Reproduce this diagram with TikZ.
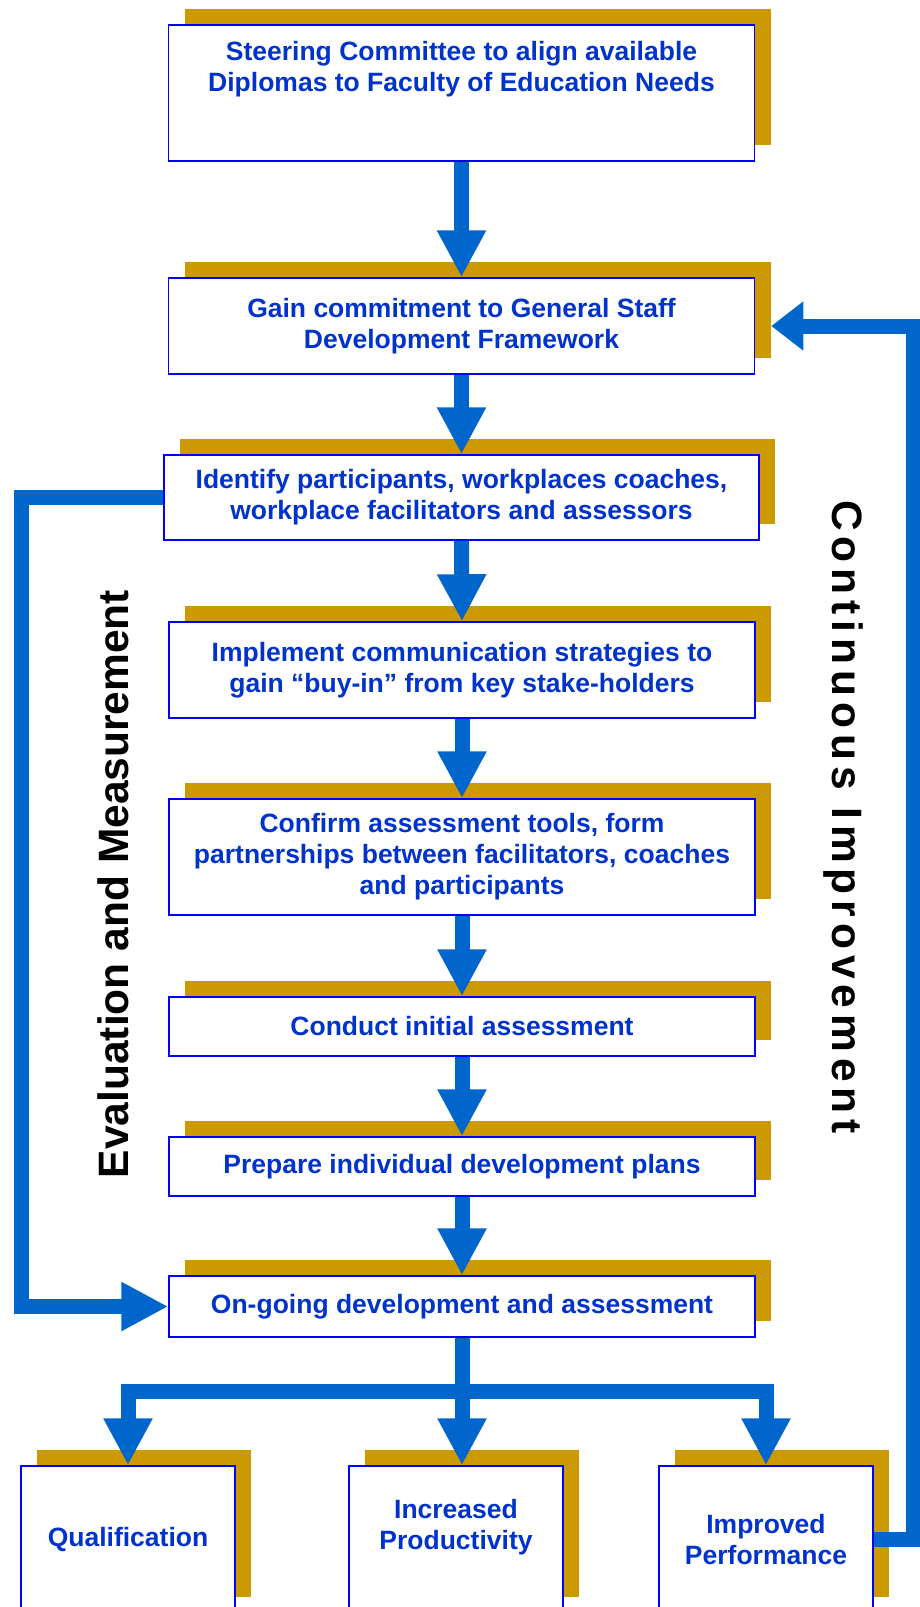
\documentclass[tikz,border=0pt]{standalone}
\usepackage{fontspec}
\setmainfont{Liberation Sans}
\usetikzlibrary{arrows.meta,shadows}
\definecolor{gold}{HTML}{CC9900}
\definecolor{flowblue}{HTML}{0066CC}
\definecolor{edgeblue}{HTML}{0000FF}
\definecolor{inkblue}{HTML}{0033CC}

\begin{document}
\begin{tikzpicture}[x=1pt,y=-1pt,
  box/.style={draw=edgeblue, line width=1.5pt, fill=white,
    general shadow={fill=gold, shadow xshift=16pt, shadow yshift=16pt},
    align=center, text=inkblue, inner sep=0pt,
    font=\fontsize{26.5}{31}\selectfont\bfseries},
  wide/.style={box, minimum width=586pt},
  outcome/.style={box, minimum width=214pt, minimum height=147pt},
  flow/.style={draw=flowblue, line width=15pt, line join=miter,
    -{Triangle[length=47pt,width=46pt]}},
  loopback/.style={draw=flowblue, line width=15pt, line join=miter,
    -{Triangle[length=32pt,width=47pt]}},
  sidelabel/.style={inner sep=0pt, anchor=base, text=black,
    font=\fontsize{42.5}{50}\selectfont\bfseries}]

\useasboundingbox (0,0) rectangle (920,1607);
\clip (0,0) rectangle (920,1607);

% process steps
\node[wide, minimum height=136pt] (b1) at (461.5,93)
  {Steering Committee to align available\\Diplomas to Faculty of Education Needs\\[22pt]\mbox{}};
\node[wide, minimum height=96pt] (b2) at (461.5,326)
  {Gain commitment to General Staff\\Development Framework};
\node[box, minimum width=595pt, minimum height=85pt] (b3) at (461.5,497.5)
  {Identify participants, workplaces coaches,\\workplace facilitators and assessors};
\node[wide, minimum height=96pt] (b4) at (462,670)
  {Implement communication strategies to\\gain “buy-in” from key stake-holders};
\node[wide, minimum height=116pt] (b5) at (462,857)
  {Confirm assessment tools, form\\partnerships between facilitators, coaches\\and participants};
\node[wide, minimum height=59pt] (b6) at (462,1026.5) {Conduct initial assessment};
\node[wide, minimum height=59pt] (b7) at (462,1166.5) {Prepare individual development plans};
\node[wide, minimum height=61pt] (b8) at (462,1306.5) {On-going development and assessment};

% outcomes
\node[outcome] (q) at (128,1539.5) {Qualification};
\node[outcome] (inc) at (456,1539.5) {Increased\\Productivity\\\mbox{}};
\node[outcome] (imp) at (766,1539.5) {Improved\\Performance};

% main sequence
\draw[flow] (b1.south) -- (b2.north);
\draw[flow] (b2.south) -- (b3.north);
\draw[flow] (b3.south) -- (b4.north);
\draw[flow] (b4.south) -- (b5.north);
\draw[flow] (b5.south) -- (b6.north);
\draw[flow] (b6.south) -- (b7.north);
\draw[flow] (b7.south) -- (b8.north);

% branching to outcomes
\coordinate (fork) at (462,1391);
\draw[flow] (b8.south) -- (b8.south |- inc.north);
\draw[flow] (fork) -| (q.north);
\draw[flow] (fork) -| (imp.north);

% evaluation loop on the left
\coordinate (evalx) at (21,0);
\draw[flow] (b3.west) -- (b3.west -| evalx) -- (b8.west -| evalx) -- (b8.west);

% improvement loop on the right
\coordinate (cix) at (913,0);
\draw[loopback] (imp.east) -- (imp.east -| cix) -- (b2.east -| cix) -- ([xshift=16pt]b2.east);

% side labels
\node[sidelabel, rotate=90] (evlabel) at (128,884) {Evaluation and Measurement};
\node[sidelabel, rotate=-90] (cilabel) at (832,817)
  {\addfontfeature{LetterSpace=14}Continuous Improvement};
\end{tikzpicture}
\end{document}
